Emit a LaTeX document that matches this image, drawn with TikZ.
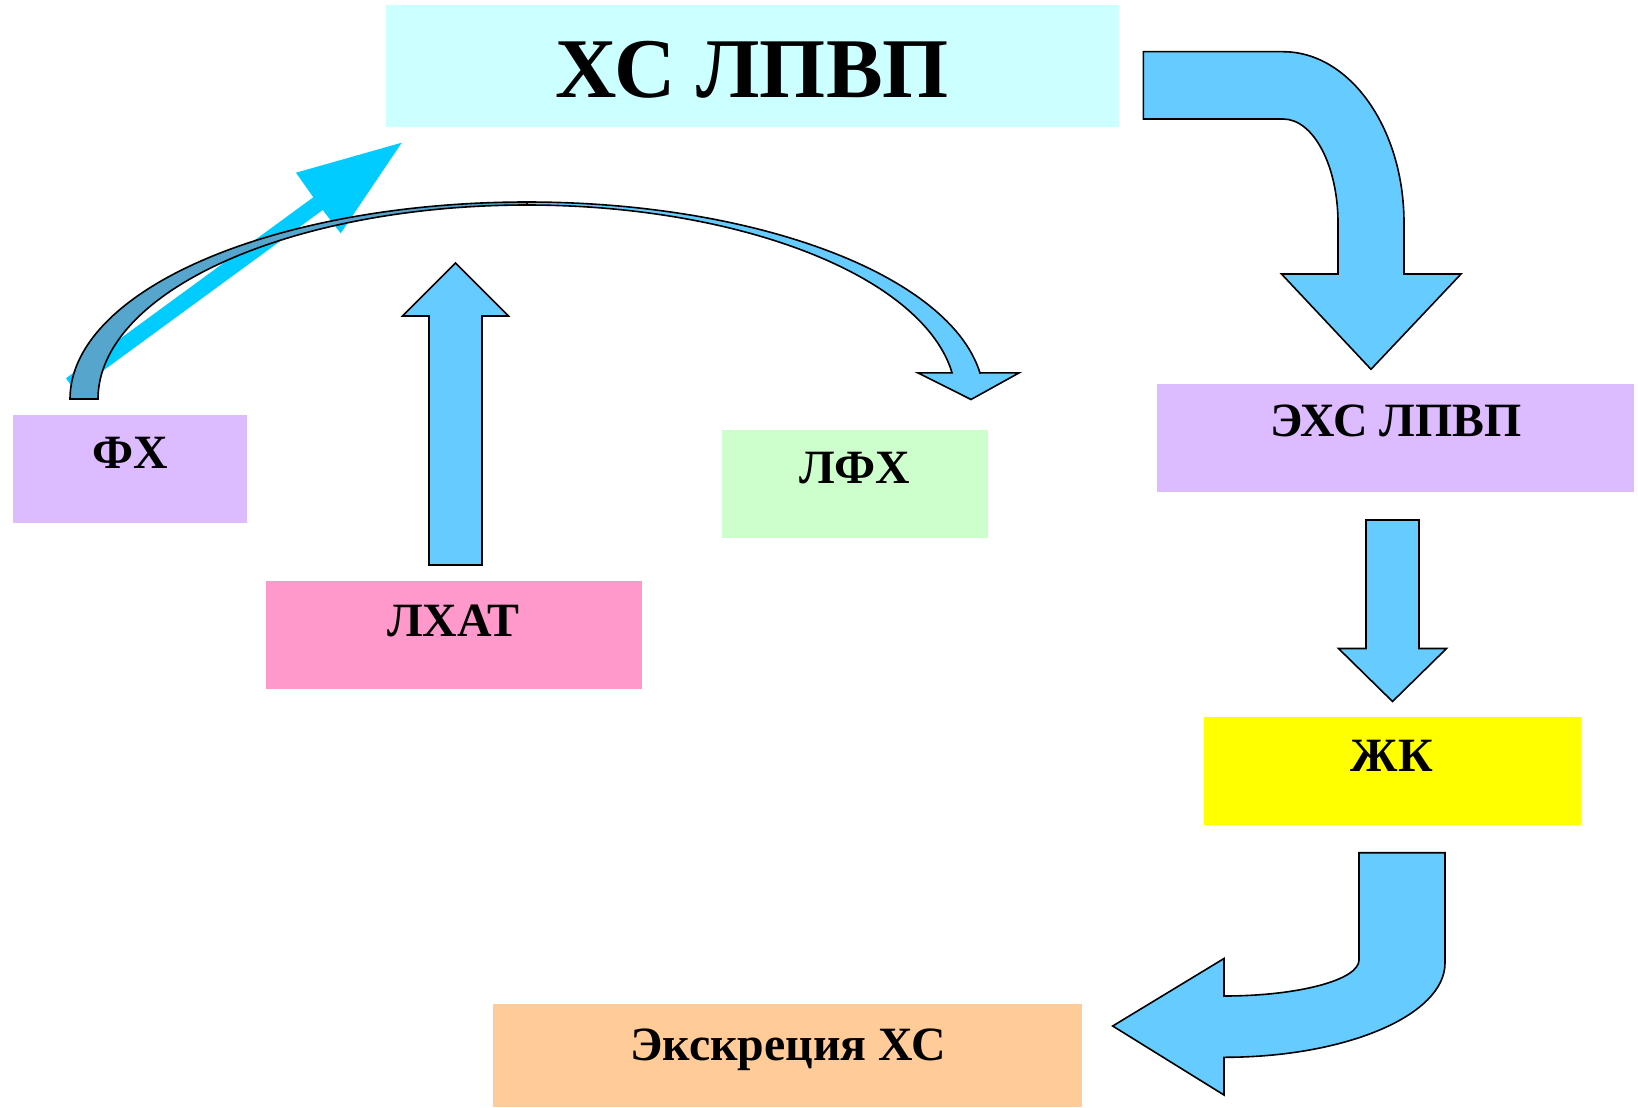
\documentclass[tikz,border=0pt]{standalone}
\usepackage{fontspec}
\setmainfont{Liberation Serif}
\definecolor{cTitle}{HTML}{CCFFFF}
\definecolor{cLav}{HTML}{DDBBFF}
\definecolor{cPink}{HTML}{FF99CC}
\definecolor{cGreen}{HTML}{CCFFCC}
\definecolor{cYel}{HTML}{FFFF00}
\definecolor{cOrange}{HTML}{FFCC99}
\definecolor{cArrow}{HTML}{66CCFF}
\definecolor{cDark}{HTML}{55A5CC}
\definecolor{cBright}{HTML}{00CCFF}
\tikzset{
  box/.style={rectangle, draw=none, inner sep=0pt, outer sep=0pt},
  lbl/.style={anchor=base, inner sep=0pt, font=\bfseries\fontsize{47.8}{50}\selectfont},
  bigl/.style={anchor=base, inner sep=0pt, font=\bfseries\fontsize{85}{90}\selectfont},
  blockarrow/.style={fill=cArrow, draw=black, line width=1.6pt, line join=miter},
}
\begin{document}
\begin{tikzpicture}[x=1pt, y=-1pt]
\useasboundingbox[fill=white] (0,0) rectangle (1638,1108);

% boxes
\node[box, fill=cTitle, minimum width=733pt, minimum height=122pt] (title) at (752.5,66) {};
\node[box, fill=cLav, minimum width=233.5pt, minimum height=108.3pt] (fx) at (129.8,469.2) {};
\node[box, fill=cPink, minimum width=376.5pt, minimum height=108.3pt] (lhat) at (454.2,635.2) {};
\node[box, fill=cGreen, minimum width=266.6pt, minimum height=108.3pt] (lfx) at (855,484.2) {};
\node[box, fill=cLav, minimum width=476.4pt, minimum height=108.5pt] (ehs) at (1395.6,438.2) {};
\node[box, fill=cYel, minimum width=376.7pt, minimum height=108.3pt] (zhk) at (1392.3,770.8) {};
\node[box, fill=cOrange, minimum width=589.5pt, minimum height=103.5pt] (exc) at (787.7,1055.7) {};

% texts
\node[bigl] (titlet) at (752.5,97) {ХС ЛПВП};
\node[lbl] (fxt) at (130,468.3) {ФХ};
\node[lbl] (lhatt) at (453.5,636) {ЛХАТ};
\node[lbl] (lfxt) at (855,483.3) {ЛФХ};
\node[lbl] (ehst) at (1395.8,436.7) {ЭХС ЛПВП};
\node[lbl] (zhkt) at (1391.8,771) {ЖК};
\node[lbl] (exct) at (788,1060) {Экскреция ХС};

% top-right bent arrow
\draw[blockarrow] (1143.3,51.7) -- (1283,51.7)
  .. controls (1349.8,51.7) and (1404,128.4) .. (1404,223)
  -- (1404,274) -- (1461,274) -- (1371,369.3) -- (1281.5,274) -- (1338,274) -- (1338,223)
  .. controls (1338,165.6) and (1313.4,119) .. (1283,119)
  -- (1143.3,119) -- cycle;

% down arrow EHS -> ZhK
\draw[blockarrow] (1366,520) -- (1419,520) -- (1419,648.5) -- (1446.5,648.5) -- (1392.5,701.5)
  -- (1338.5,648.5) -- (1366,648.5) -- cycle;

% up arrow from LHAT
\draw[blockarrow] (429,565) -- (429,316) -- (402.5,316) -- (455.5,263) -- (508.5,316)
  -- (482,316) -- (482,565) -- cycle;

% bottom U-turn arrow
\draw[blockarrow] (1359,852.7) -- (1445,852.7) -- (1445,963)
  .. controls (1445,1015.1) and (1346.1,1057.3) .. (1224,1057.3)
  -- (1224,1095) -- (1112.7,1026) -- (1224,958.5) -- (1224,996)
  .. controls (1298.6,996) and (1359,979.9) .. (1359,960) -- cycle;

% bright straight arrow
\fill[cBright] (66,378.3) -- (313.3,197.3) -- (296,172.7) -- (401.7,142.7)
  -- (340.7,233.3) -- (322.7,210) -- (75.3,391) -- cycle;

% curved ribbon arrow FX -> LFX
\draw[blockarrow] plot[domain=90:7.6, variable=\t, samples=80] ({527+457*cos(\t)},{399-197*sin(\t)})
  -- (1019,372.9) -- (971,399.5) -- (918,372.9)
  -- plot[domain=7.73:90, variable=\t, samples=80] ({527+429*cos(\t)},{399-194*sin(\t)}) -- cycle;
\draw[blockarrow, fill=cDark] plot[domain=180:90, variable=\t, samples=80] ({527+457*cos(\t)},{399-197*sin(\t)})
  -- plot[domain=90:180, variable=\t, samples=80] ({527+429*cos(\t)},{399-194*sin(\t)}) -- cycle;
\end{tikzpicture}
\end{document}
